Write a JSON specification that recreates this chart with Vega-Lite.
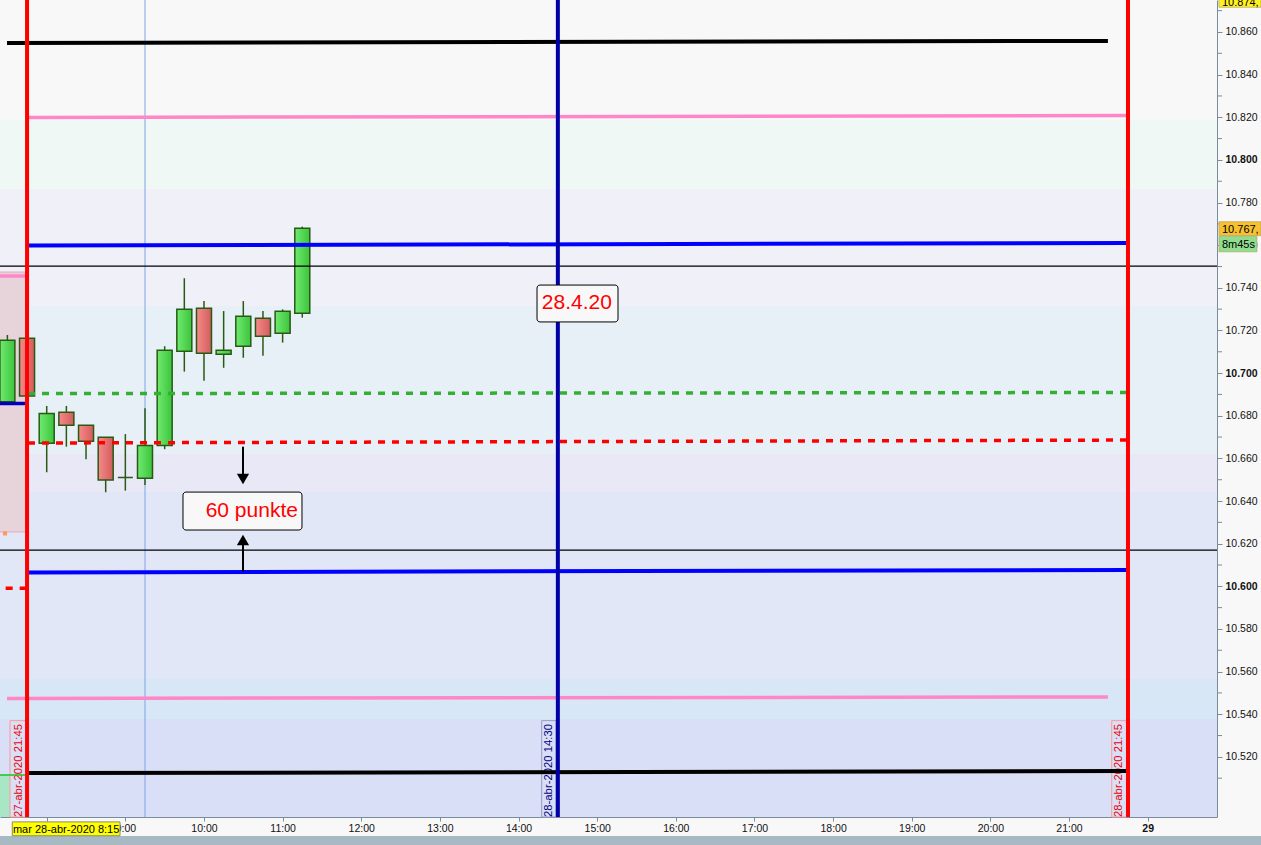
{
"$schema":"https://vega.github.io/schema/vega-lite/v6.json",
"width":1217,"height":817,
"autosize":{"type":"none"},
"padding":{"left":0,"top":0,"right":44,"bottom":28},
"background":"#f8f8f8",
"config":{"view":{"stroke":null},"font":"Liberation Sans","text":{"font":"Liberation Sans"},"scale":{"continuousPadding":0}},
"resolve":{"scale":{"fill":"independent","stroke":"independent","color":"independent"}},
"datasets":{
"bands":[
{"z":"a","lo":10.8187,"hi":10.875},
{"z":"b","lo":10.7864,"hi":10.8187},
{"z":"c","lo":10.7315,"hi":10.7864},
{"z":"d","lo":10.6621,"hi":10.7315},
{"z":"e","lo":10.6442,"hi":10.6621},
{"z":"f","lo":10.5565,"hi":10.6442},
{"z":"g","lo":10.5378,"hi":10.5565},
{"z":"h","lo":10.4918,"hi":10.5378}],
"candles":[
{"t":7.5,"open":10.6866,"high":10.7179,"low":10.6862,"close":10.7154},
{"t":7.75,"open":10.7163,"high":10.7170,"low":10.6890,"close":10.6893},
{"t":8.0,"open":10.6671,"high":10.6846,"low":10.6535,"close":10.6811},
{"t":8.25,"open":10.6816,"high":10.6846,"low":10.6655,"close":10.6755},
{"t":8.5,"open":10.6755,"high":10.6755,"low":10.6596,"close":10.6680},
{"t":8.75,"open":10.6699,"high":10.6699,"low":10.6441,"close":10.6499},
{"t":9.0,"open":10.6510,"high":10.6714,"low":10.6449,"close":10.6510},
{"t":9.25,"open":10.6507,"high":10.6835,"low":10.6475,"close":10.6661},
{"t":9.5,"open":10.6661,"high":10.7126,"low":10.6643,"close":10.7107},
{"t":9.75,"open":10.7102,"high":10.7445,"low":10.7007,"close":10.7299},
{"t":10.0,"open":10.7304,"high":10.7338,"low":10.6964,"close":10.7093},
{"t":10.25,"open":10.7088,"high":10.7291,"low":10.7025,"close":10.7107},
{"t":10.5,"open":10.7126,"high":10.7338,"low":10.7072,"close":10.7267},
{"t":10.75,"open":10.7257,"high":10.7291,"low":10.7082,"close":10.7173},
{"t":11.0,"open":10.7187,"high":10.7299,"low":10.7143,"close":10.7290},
{"t":11.25,"open":10.7281,"high":10.7687,"low":10.7260,"close":10.7679}],
"segments":[
{"k":"black","t1":7.495,"t2":21.495,"p1":10.8548,"p2":10.8558},
{"k":"black","t1":7.762,"t2":21.75,"p1":10.5124,"p2":10.5134},
{"k":"pink","t1":7.762,"t2":21.75,"p1":10.8199,"p2":10.8208},
{"k":"pink","t1":7.495,"t2":21.495,"p1":10.5474,"p2":10.5481},
{"k":"pink","t1":7.3,"t2":7.75,"p1":10.7456,"p2":10.7456},
{"k":"blue","t1":7.762,"t2":21.75,"p1":10.7599,"p2":10.7610},
{"k":"blue","t1":7.762,"t2":21.75,"p1":10.6065,"p2":10.6077},
{"k":"navy","t1":7.3,"t2":7.75,"p1":10.6858,"p2":10.6858},
{"k":"greendot","t1":7.762,"t2":21.75,"p1":10.6904,"p2":10.6909},
{"k":"reddot","t1":7.762,"t2":21.75,"p1":10.6672,"p2":10.6686},
{"k":"reddot","t1":7.3,"t2":7.75,"p1":10.5991,"p2":10.5991},
{"k":"green","t1":7.3,"t2":7.75,"p1":10.5115,"p2":10.5115}],
"vlines":[{"k":"red","t":7.75},{"k":"red","t":21.75},{"k":"navy","t":14.5}],
"vlabels":[
{"txt":"27-abr-2020 21:45","k":"red","t1":7.533,"t2":7.733,"tc":7.648,"p1":10.537,"p2":10.4918,"pc":10.5136},
{"txt":"28-abr-2020 14:30","k":"navy","t1":14.294,"t2":14.476,"tc":14.39,"p1":10.537,"p2":10.4918,"pc":10.5136},
{"txt":"28-abr-2020 21:45","k":"red","t1":21.543,"t2":21.737,"tc":21.635,"p1":10.537,"p2":10.4918,"pc":10.5136}],
"boxes":[
{"txt":"28.4.20","t1":14.235,"t2":15.265,"p1":10.7413,"p2":10.724,"tc":14.741,"pc":10.7299},
{"txt":"60 punkte","t1":9.733,"t2":11.246,"p1":10.6442,"p2":10.6264,"tc":10.608,"pc":10.6327}],
"tags":[
{"txt":"10.874,","k":"yellow","t1":22.907,"t2":23.441,"p1":10.8792,"p2":10.8716,"pt":10.8720},
{"txt":"10.767,","k":"gold","t1":22.907,"t2":23.441,"p1":10.771,"p2":10.7645,"pt":10.7657},
{"txt":"8m45s","k":"green","t1":22.907,"t2":23.39,"p1":10.7642,"p2":10.7569,"pt":10.7588}],
"minor":[{"p":10.51},{"p":10.53},{"p":10.55},{"p":10.57},{"p":10.59},{"p":10.61},{"p":10.63},{"p":10.65},{"p":10.67},{"p":10.69},{"p":10.71},{"p":10.73},{"p":10.75},{"p":10.77},{"p":10.79},{"p":10.81},{"p":10.83},{"p":10.85},{"p":10.87}]
},
"layer":[
{"data":{"name":"bands"},"mark":{"type":"rect"},
"encoding":{"x":{"datum":7.406,"type":"quantitative","scale":{"domain":[7.406,22.882],"nice":false,"zero":false,"padding":0}},"x2":{"datum":22.882},
"y":{"field":"lo","type":"quantitative","scale":{"domain":[10.4918,10.875],"nice":false,"zero":false},
"axis":{"orient":"right","title":null,"grid":false,"values":[10.52,10.54,10.56,10.58,10.6,10.62,10.64,10.66,10.68,10.7,10.72,10.74,10.76,10.78,10.8,10.82,10.84,10.86],"format":".3f","labelFontWeight":{"condition":{"test":"datum.value == 10.8 || datum.value == 10.7 || datum.value == 10.6","value":"bold"},"value":"normal"},"labelFont":"Liberation Sans","labelFontSize":10.5,"labelColor":"#111111","labelPadding":3,"tickSize":5,"tickColor":"#7a8c99","domainColor":"#7a8c99"}},"y2":{"field":"hi"},
"fill":{"field":"z","type":"nominal","scale":{"domain":["a","b","c","d","e","f","g","h"],"range":["#f8f8f8","#eff8f5","#eff0f8","#e8f0f7","#e8e8f7","#e1e7f6","#d7e7f6","#d8dff7"]},"legend":null}}},
{"data":{"name":"minor"},"mark":{"type":"rule","color":"#7a8c99","strokeWidth":1},
"encoding":{"x":{"datum":22.882,"type":"quantitative","scale":{"domain":[7.406,22.882],"nice":false,"zero":false,"padding":0}},"x2":{"datum":22.9456},
"y":{"field":"p","type":"quantitative","scale":{"domain":[10.4918,10.875],"nice":false,"zero":false}}}},
{"data":{"values":[{"t1":7.3,"t2":7.73,"lo":10.6255,"hi":10.7474}]},"mark":{"type":"rect","fill":"#e7d3da","stroke":"#e3aabb","strokeWidth":1},
"encoding":{"x":{"field":"t1","type":"quantitative","scale":{"domain":[7.406,22.882],"nice":false,"zero":false,"padding":0}},"x2":{"field":"t2"},
"y":{"field":"lo","type":"quantitative","scale":{"domain":[10.4918,10.875],"nice":false,"zero":false}},"y2":{"field":"hi"}}},
{"data":{"values":[{"t1":7.3,"t2":7.533,"lo":10.4918,"hi":10.5115}]},"mark":{"type":"rect","fill":"#a8e6c6"},
"encoding":{"x":{"field":"t1","type":"quantitative","scale":{"domain":[7.406,22.882],"nice":false,"zero":false,"padding":0}},"x2":{"field":"t2"},
"y":{"field":"lo","type":"quantitative","scale":{"domain":[10.4918,10.875],"nice":false,"zero":false}},"y2":{"field":"hi"}}},
{"data":{"values":[{"t":7.47,"p":10.6248}]},"mark":{"type":"square","size":16,"color":"#ff9955","opacity":1},
"encoding":{"x":{"field":"t","type":"quantitative","scale":{"domain":[7.406,22.882],"nice":false,"zero":false,"padding":0}},
"y":{"field":"p","type":"quantitative","scale":{"domain":[10.4918,10.875],"nice":false,"zero":false}}}},
{"data":{"values":[{"t":9.25}]},"mark":{"type":"rule","color":"#7fa3e8","strokeWidth":1},
"encoding":{"x":{"field":"t","type":"quantitative","scale":{"domain":[7.406,22.882],"nice":false,"zero":false,"padding":0}}}},
{"data":{"name":"candles"},"mark":{"type":"rule","color":"#285a14","strokeWidth":1.5},
"encoding":{"x":{"field":"t","type":"quantitative","scale":{"domain":[7.406,22.882],"nice":false,"zero":false,"padding":0},
"axis":{"orient":"bottom","title":null,"grid":false,"values":[8,9,10,11,12,13,14,15,16,17,18,19,20,21,22],"labelExpr":"datum.value == 22 ? '29' : datum.value + ':00'","labelFontWeight":{"condition":{"test":"datum.value == 22","value":"bold"},"value":"normal"},"labelFont":"Liberation Sans","labelFontSize":10.5,"labelColor":"#111111","labelPadding":2,"tickSize":4,"tickColor":"#7a8c99","domainColor":"#7a8c99","labelFlush":false,"labelOverlap":false,"labelBound":false}},
"y":{"field":"low","type":"quantitative","scale":{"domain":[10.4918,10.875],"nice":false,"zero":false}},
"y2":{"field":"high"}}},
{"data":{"name":"candles"},"transform":[{"filter":"datum.close >= datum.open"}],
"mark":{"type":"bar","size":15,"stroke":"#285a14","strokeWidth":1.5,"fill":{"gradient":"linear","x1":0,"y1":0,"x2":1,"y2":0,"stops":[{"offset":0,"color":"#70ea70"},{"offset":1,"color":"#3cc43c"}]}},
"encoding":{"x":{"field":"t","type":"quantitative","scale":{"domain":[7.406,22.882],"nice":false,"zero":false,"padding":0}},
"y":{"field":"open","type":"quantitative","scale":{"domain":[10.4918,10.875],"nice":false,"zero":false}},"y2":{"field":"close"}}},
{"data":{"name":"candles"},"transform":[{"filter":"datum.close < datum.open"}],
"mark":{"type":"bar","size":15,"stroke":"#285a14","strokeWidth":1.5,"fill":{"gradient":"linear","x1":0,"y1":0,"x2":1,"y2":0,"stops":[{"offset":0,"color":"#f68a8a"},{"offset":1,"color":"#d45c5c"}]}},
"encoding":{"x":{"field":"t","type":"quantitative","scale":{"domain":[7.406,22.882],"nice":false,"zero":false,"padding":0}},
"y":{"field":"open","type":"quantitative","scale":{"domain":[10.4918,10.875],"nice":false,"zero":false}},"y2":{"field":"close"}}},
{"data":{"name":"vlabels"},"mark":{"type":"rect","fillOpacity":0,"strokeWidth":1},
"encoding":{"x":{"field":"t1","type":"quantitative","scale":{"domain":[7.406,22.882],"nice":false,"zero":false,"padding":0}},"x2":{"field":"t2"},
"y":{"field":"p1","type":"quantitative","scale":{"domain":[10.4918,10.875],"nice":false,"zero":false}},"y2":{"field":"p2"},
"stroke":{"field":"k","type":"nominal","scale":{"domain":["red","navy"],"range":["#ff9a9a","#9a9ac8"]},"legend":null}}},
{"data":{"name":"vlabels"},"mark":{"type":"text","angle":270,"align":"center","baseline":"middle","fontSize":11.3,"font":"Liberation Sans"},
"encoding":{"x":{"field":"tc","type":"quantitative","scale":{"domain":[7.406,22.882],"nice":false,"zero":false,"padding":0}},
"y":{"field":"pc","type":"quantitative","scale":{"domain":[10.4918,10.875],"nice":false,"zero":false}},
"text":{"field":"txt"},
"fill":{"field":"k","type":"nominal","scale":{"domain":["red","navy"],"range":["#ee0000","#000080"]},"legend":null}}},
{"data":{"name":"segments"},"transform":[{"filter":"datum.k == 'black'"}],"mark":{"type":"rule","color":"#000000","strokeWidth":4},
"encoding":{"x":{"field":"t1","type":"quantitative","scale":{"domain":[7.406,22.882],"nice":false,"zero":false,"padding":0}},"x2":{"field":"t2"},
"y":{"field":"p1","type":"quantitative","scale":{"domain":[10.4918,10.875],"nice":false,"zero":false}},"y2":{"field":"p2"}}},
{"data":{"name":"segments"},"transform":[{"filter":"datum.k == 'pink'"}],"mark":{"type":"rule","color":"#ff86c8","strokeWidth":3.5},
"encoding":{"x":{"field":"t1","type":"quantitative","scale":{"domain":[7.406,22.882],"nice":false,"zero":false,"padding":0}},"x2":{"field":"t2"},
"y":{"field":"p1","type":"quantitative","scale":{"domain":[10.4918,10.875],"nice":false,"zero":false}},"y2":{"field":"p2"}}},
{"data":{"name":"segments"},"transform":[{"filter":"datum.k == 'blue'"}],"mark":{"type":"rule","color":"#0000ff","strokeWidth":4},
"encoding":{"x":{"field":"t1","type":"quantitative","scale":{"domain":[7.406,22.882],"nice":false,"zero":false,"padding":0}},"x2":{"field":"t2"},
"y":{"field":"p1","type":"quantitative","scale":{"domain":[10.4918,10.875],"nice":false,"zero":false}},"y2":{"field":"p2"}}},
{"data":{"name":"segments"},"transform":[{"filter":"datum.k == 'navy'"}],"mark":{"type":"rule","color":"#0000b8","strokeWidth":3.5},
"encoding":{"x":{"field":"t1","type":"quantitative","scale":{"domain":[7.406,22.882],"nice":false,"zero":false,"padding":0}},"x2":{"field":"t2"},
"y":{"field":"p1","type":"quantitative","scale":{"domain":[10.4918,10.875],"nice":false,"zero":false}},"y2":{"field":"p2"}}},
{"data":{"name":"segments"},"transform":[{"filter":"datum.k == 'green'"}],"mark":{"type":"rule","color":"#22c022","strokeWidth":1.5},
"encoding":{"x":{"field":"t1","type":"quantitative","scale":{"domain":[7.406,22.882],"nice":false,"zero":false,"padding":0}},"x2":{"field":"t2"},
"y":{"field":"p1","type":"quantitative","scale":{"domain":[10.4918,10.875],"nice":false,"zero":false}},"y2":{"field":"p2"}}},
{"data":{"name":"segments"},"transform":[{"filter":"datum.k == 'greendot'"}],"mark":{"type":"rule","color":"#33b033","strokeWidth":3.5,"strokeDash":[7,7]},
"encoding":{"x":{"field":"t1","type":"quantitative","scale":{"domain":[7.406,22.882],"nice":false,"zero":false,"padding":0}},"x2":{"field":"t2"},
"y":{"field":"p1","type":"quantitative","scale":{"domain":[10.4918,10.875],"nice":false,"zero":false}},"y2":{"field":"p2"}}},
{"data":{"name":"segments"},"transform":[{"filter":"datum.k == 'reddot'"}],"mark":{"type":"rule","color":"#ff0000","strokeWidth":3.5,"strokeDash":[7,7]},
"encoding":{"x":{"field":"t1","type":"quantitative","scale":{"domain":[7.406,22.882],"nice":false,"zero":false,"padding":0}},"x2":{"field":"t2"},
"y":{"field":"p1","type":"quantitative","scale":{"domain":[10.4918,10.875],"nice":false,"zero":false}},"y2":{"field":"p2"}}},
{"data":{"values":[{"p":10.7502},{"p":10.617}]},"mark":{"type":"rule","color":"#000000","strokeWidth":1.2},
"encoding":{"y":{"field":"p","type":"quantitative","scale":{"domain":[10.4918,10.875],"nice":false,"zero":false}}}},
{"data":{"name":"vlines"},"mark":{"type":"rule","strokeWidth":4},
"encoding":{"x":{"field":"t","type":"quantitative","scale":{"domain":[7.406,22.882],"nice":false,"zero":false,"padding":0}},
"color":{"field":"k","type":"nominal","scale":{"domain":["red","navy"],"range":["#ff0000","#0000a8"]},"legend":null}}},
{"data":{"name":"boxes"},"mark":{"type":"rect","fill":"#f8f8f8","stroke":"#000000","strokeWidth":1,"cornerRadius":3},
"encoding":{"x":{"field":"t1","type":"quantitative","scale":{"domain":[7.406,22.882],"nice":false,"zero":false,"padding":0}},"x2":{"field":"t2"},
"y":{"field":"p1","type":"quantitative","scale":{"domain":[10.4918,10.875],"nice":false,"zero":false}},"y2":{"field":"p2"}}},
{"data":{"name":"boxes"},"mark":{"type":"text","align":"center","baseline":"alphabetic","fontSize":21,"font":"Liberation Sans","color":"#ff0000"},
"encoding":{"x":{"field":"tc","type":"quantitative","scale":{"domain":[7.406,22.882],"nice":false,"zero":false,"padding":0}},
"y":{"field":"pc","type":"quantitative","scale":{"domain":[10.4918,10.875],"nice":false,"zero":false}},"text":{"field":"txt"}}},
{"data":{"values":[{"t":10.496,"p1":10.6655,"p2":10.6515},{"t":10.496,"p1":10.6069,"p2":10.6205}]},"mark":{"type":"rule","color":"#000000","strokeWidth":2},
"encoding":{"x":{"field":"t","type":"quantitative","scale":{"domain":[7.406,22.882],"nice":false,"zero":false,"padding":0}},
"y":{"field":"p1","type":"quantitative","scale":{"domain":[10.4918,10.875],"nice":false,"zero":false}},"y2":{"field":"p2"}}},
{"data":{"values":[{"t":10.496,"p":10.6503}]},"mark":{"type":"point","shape":"triangle-down","filled":true,"size":150,"color":"#000000","opacity":1},
"encoding":{"x":{"field":"t","type":"quantitative","scale":{"domain":[7.406,22.882],"nice":false,"zero":false,"padding":0}},
"y":{"field":"p","type":"quantitative","scale":{"domain":[10.4918,10.875],"nice":false,"zero":false}}}},
{"data":{"values":[{"t":10.496,"p":10.6217}]},"mark":{"type":"point","shape":"triangle-up","filled":true,"size":150,"color":"#000000","opacity":1},
"encoding":{"x":{"field":"t","type":"quantitative","scale":{"domain":[7.406,22.882],"nice":false,"zero":false,"padding":0}},
"y":{"field":"p","type":"quantitative","scale":{"domain":[10.4918,10.875],"nice":false,"zero":false}}}},
{"data":{"name":"tags"},"mark":{"type":"rect","stroke":"#b8a060","strokeWidth":0.7},
"encoding":{"x":{"field":"t1","type":"quantitative","scale":{"domain":[7.406,22.882],"nice":false,"zero":false,"padding":0}},"x2":{"field":"t2"},
"y":{"field":"p1","type":"quantitative","scale":{"domain":[10.4918,10.875],"nice":false,"zero":false}},"y2":{"field":"p2"},
"fill":{"field":"k","type":"nominal","scale":{"domain":["yellow","gold","green"],"range":["#fff21e","#f6c030","#8ede8e"]},"legend":null}}},
{"data":{"name":"tags"},"mark":{"type":"text","align":"left","baseline":"alphabetic","fontSize":11,"font":"Liberation Sans","color":"#000000","dx":3},
"encoding":{"x":{"field":"t1","type":"quantitative","scale":{"domain":[7.406,22.882],"nice":false,"zero":false,"padding":0}},
"y":{"field":"pt","type":"quantitative","scale":{"domain":[10.4918,10.875],"nice":false,"zero":false}},"text":{"field":"txt"}}},
{"data":{"values":[{"t1":7.2,"t2":23.6,"p1":10.4829,"p2":10.478}]},"mark":{"type":"rect","fill":"#a7b9c3"},
"encoding":{"x":{"field":"t1","type":"quantitative","scale":{"domain":[7.406,22.882],"nice":false,"zero":false,"padding":0}},"x2":{"field":"t2"},
"y":{"field":"p1","type":"quantitative","scale":{"domain":[10.4918,10.875],"nice":false,"zero":false}},"y2":{"field":"p2"}}},
{"data":{"values":[{"t1":7.562,"t2":8.932,"p1":10.4895,"p2":10.483}]},"mark":{"type":"rect","fill":"#ffff00","stroke":"#8a8a6a","strokeWidth":1},
"encoding":{"x":{"field":"t1","type":"quantitative","scale":{"domain":[7.406,22.882],"nice":false,"zero":false,"padding":0}},"x2":{"field":"t2"},
"y":{"field":"p1","type":"quantitative","scale":{"domain":[10.4918,10.875],"nice":false,"zero":false}},"y2":{"field":"p2"}}},
{"data":{"values":[{"txt":"mar 28-abr-2020 8:15","tc":8.247,"pc":10.4843}]},"mark":{"type":"text","align":"center","baseline":"alphabetic","fontSize":11,"font":"Liberation Sans","color":"#000000"},
"encoding":{"x":{"field":"tc","type":"quantitative","scale":{"domain":[7.406,22.882],"nice":false,"zero":false,"padding":0}},
"y":{"field":"pc","type":"quantitative","scale":{"domain":[10.4918,10.875],"nice":false,"zero":false}},"text":{"field":"txt"}}}
]
}
